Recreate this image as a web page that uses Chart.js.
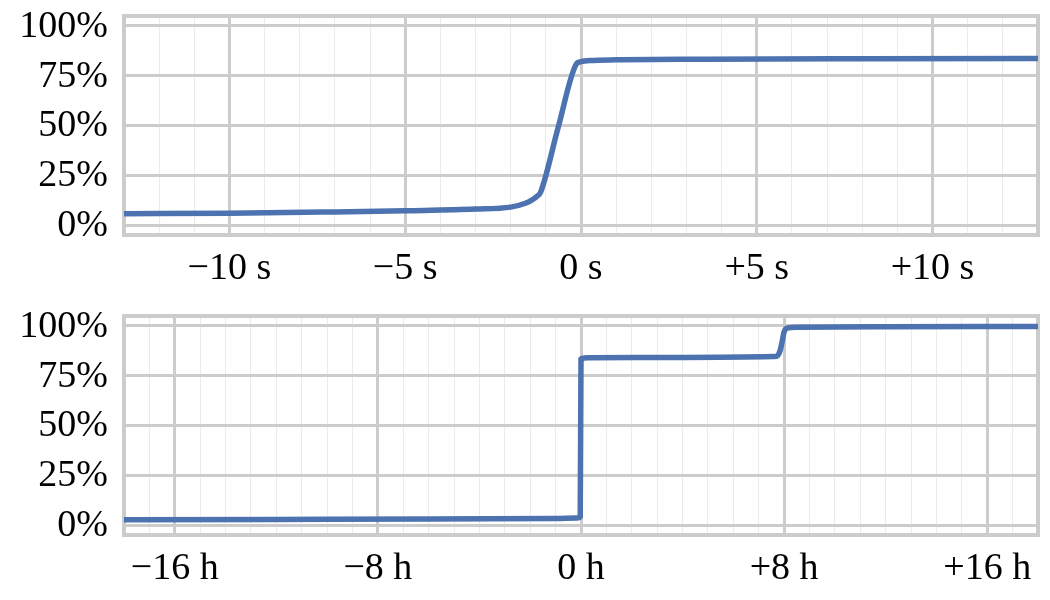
<!DOCTYPE html>
<html>
<head>
<meta charset="utf-8">
<script src="https://cdn.jsdelivr.net/npm/chart.js@4.4.1/dist/chart.umd.min.js"></script>
<style>
  html, body { margin: 0; padding: 0; background: #fff; }
  .panel { position: absolute; left: 0; width: 1050px; height: 300px; }
</style>
</head>
<body>
<canvas id="topChart" class="panel" width="1050" height="300" style="top:0"></canvas>
<canvas id="bottomChart" class="panel" width="1050" height="300" style="top:300px"></canvas>
<script>
// top panel: seconds
const topX = [-13, -10, -7, -5, -3, -2, -1.6, -1.4, -1.25, -1.15, -0.65, -0.12, -0.02, 0.25, 1, 3.5, 8, 13];
const topY = [5.7, 5.9, 6.6, 7.2, 8.0, 9.0, 10.8, 12.5, 14.5, 16.5, 49, 81.2, 82.0, 82.6, 83.0, 83.3, 83.5, 83.6];
const topTicks = [-10, -5, 0, 5, 10];
const topTickLabels = ['\u221210 s', '\u22125 s', '0 s', '+5 s', '+10 s'];

// bottom panel: hours
const bottomX = [-18, -12, -6, -1, -0.15, -0.03, 0, 0.3, 4, 7.6, 7.75, 7.85, 7.92, 8.0, 8.15, 8.5, 12, 18];
const bottomY = [2.6, 2.8, 3.0, 3.3, 3.5, 4.0, 83.5, 84.0, 84.2, 84.6, 85.2, 88, 92, 97, 99, 99.4, 99.6, 99.7];
const bottomTicks = [-16, -8, 0, 8, 16];
const bottomTickLabels = ['\u221216 h', '\u22128 h', '0 h', '+8 h', '+16 h'];

const yTicks = [0, 25, 50, 75, 100];
const yTickLabels = ['0%', '25%', '50%', '75%', '100%'];

const lineColor = '#4c72b0';
const majorGrid = '#cccccc';
const minorGrid = '#ebebeb';
const tickFont = { family: 'Liberation Serif', size: 38 };

const framePlugin = {
    id: 'frame',
    beforeDatasetsDraw(chart) {
        const a = chart.chartArea;
        const c = chart.ctx;
        c.save();
        c.strokeStyle = majorGrid;
        c.lineWidth = 4;
        c.strokeRect(a.left, a.top, a.right - a.left, a.bottom - a.top);
        c.restore();
    }
};

function makeChart(id, xs, ys, limit, majors, majorLabels) {
    const minorValues = [];
    for (let v = -limit; v <= limit; v++) minorValues.push(v);

    return new Chart(document.getElementById(id).getContext('2d'), {
        type: 'line',
        data: {
            datasets: [{
                data: xs.map((x, i) => ({ x: x, y: ys[i] })),
                borderColor: lineColor,
                borderWidth: 5.5,
                pointRadius: 0,
                fill: false,
                cubicInterpolationMode: 'monotone',
                borderCapStyle: 'round',
                borderJoinStyle: 'round'
            }]
        },
        options: {
            responsive: false,
            animation: false,
            devicePixelRatio: 1,
            layout: { padding: { top: 16, right: 12, left: 0, bottom: 0 } },
            plugins: {
                legend: { display: false },
                tooltip: { enabled: false }
            },
            scales: {
                x: {
                    type: 'linear',
                    min: -limit,
                    max: limit,
                    afterFit: s => {
                        s.height = 65;
                        s.paddingLeft = 0;
                        s.paddingRight = 0;
                    },
                    afterBuildTicks: s => { s.ticks = minorValues.map(v => ({ value: v })); },
                    border: { display: false },
                    grid: {
                        drawTicks: false,
                        color: ctx => majors.includes(ctx.tick && ctx.tick.value) ? majorGrid : minorGrid,
                        lineWidth: ctx => majors.includes(ctx.tick && ctx.tick.value) ? 3 : 1
                    },
                    ticks: {
                        autoSkip: false,
                        maxRotation: 0,
                        padding: 11,
                        color: '#000',
                        font: tickFont,
                        callback: v => {
                            const i = majors.indexOf(v);
                            return i >= 0 ? majorLabels[i] : '';
                        }
                    }
                },
                y: {
                    min: -5,
                    max: 105,
                    afterFit: s => {
                        s.width = 124;
                        s.paddingTop = 0;
                        s.paddingBottom = 0;
                    },
                    afterBuildTicks: s => { s.ticks = yTicks.map(v => ({ value: v })); },
                    border: { display: false },
                    grid: {
                        drawTicks: false,
                        color: majorGrid,
                        lineWidth: 3
                    },
                    ticks: {
                        padding: 16,
                        labelOffset: 1,
                        color: '#000',
                        font: tickFont,
                        callback: v => yTickLabels[yTicks.indexOf(v)]
                    }
                }
            }
        },
        plugins: [framePlugin]
    });
}

makeChart('topChart', topX, topY, 13, topTicks, topTickLabels);
makeChart('bottomChart', bottomX, bottomY, 18, bottomTicks, bottomTickLabels);
</script>
</body>
</html>
